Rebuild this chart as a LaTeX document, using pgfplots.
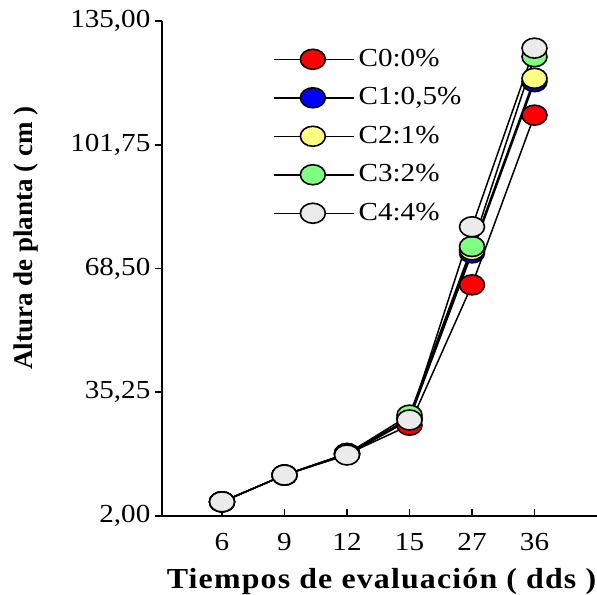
\documentclass[border=0pt]{standalone}
\usepackage{fontspec}
\setmainfont{Liberation Serif}
\newfontfamily\widefont{Liberation Serif}[FakeStretch=1.12]
\newfontfamily\xlabfont{Liberation Serif}[FakeStretch=1.1,LetterSpace=4]
\usepackage{pgfplots}
\pgfplotsset{compat=1.18}

\definecolor{cZero}{RGB}{255,0,0}
\definecolor{cOne}{RGB}{0,0,255}
\definecolor{cTwo}{RGB}{255,255,128}
\definecolor{cThree}{RGB}{128,255,128}
\definecolor{cFour}{RGB}{235,235,235}

\begin{document}
\begin{tikzpicture}
\useasboundingbox (-81pt,-39pt) rectangle (217.5pt,258pt);
\begin{axis}[
  at={(0,0)}, anchor=south west,
  scale only axis,
  width=217.5pt, height=247.5pt,
  xmin=-0.96, xmax=6,
  ymin=2, ymax=135,
  axis x line=bottom, axis y line=left,
  axis line style={-, line width=1pt},
  xtick={0,1,2,3,4,5},
  xticklabels={6,9,12,15,27,36},
  ytick={2,35.25,68.5,101.75,135},
  yticklabels={{2,00},{35,25},{68,50},{101,75},{135,00}},
  x tick style={line width=0.9pt, black},
  y tick style={line width=0.9pt, black},
  xtick align=inside, ytick align=outside,
  major tick length=3.3pt,
  tick label style={font=\widefont\fontsize{13}{15}\selectfont},
  xticklabel style={yshift=-5pt},
  yticklabel style={xshift=1pt},
  /pgf/number format/assume math mode=true,
  xlabel={\textbf{Tiempos de evaluación ( dds )}},
  ylabel={\textbf{Altura de planta ( cm )}},
  xlabel style={font=\xlabfont\fontsize{14.5}{16}\selectfont, at={(axis description cs:0.506,-0.132)}, anchor=center},
  ylabel style={font=\fontsize{13.5}{15}\selectfont, at={(axis description cs:-0.312,0.5616)}, anchor=center},
  clip=false,
  every axis plot/.append style={line width=0.75pt, black},
  mark size=5pt,
  legend style={draw=none, fill=none, at={(axis description cs:0.2545,0.948)}, anchor=north west,
    font=\widefont\fontsize{13}{15}\selectfont, row sep=7.1pt, inner sep=0pt,
    nodes={inner xsep=2pt, inner ysep=1pt}},
  legend cell align=left,
  legend image code/.code={
    \draw[mark repeat=2, mark phase=2, #1] plot coordinates {(0pt,0pt) (19.5pt,0pt) (40pt,0pt)};
  },
]
% altura de planta por tratamiento
\addplot[mark=*, mark options={xscale=1.25, line width=0.8pt, draw=black, solid, fill=cZero}] coordinates {(0,5.8) (1,13.0) (2,18.6) (3,26.4) (4,64.1) (5,109.7)};
\addlegendentry{C0:0\%}
\addplot[mark=*, mark options={xscale=1.25, line width=0.8pt, draw=black, solid, fill=cOne}] coordinates {(0,5.8) (1,13.0) (2,18.8) (3,28.0) (4,72.7) (5,118.7)};
\addlegendentry{C1:0,5\%}
\addplot[mark=*, mark options={xscale=1.25, line width=0.8pt, draw=black, solid, fill=cTwo}] coordinates {(0,5.8) (1,13.0) (2,18.8) (3,28.3) (4,73.5) (5,119.6)};
\addlegendentry{C2:1\%}
\addplot[mark=*, mark options={xscale=1.25, line width=0.8pt, draw=black, solid, fill=cThree}] coordinates {(0,5.8) (1,13.0) (2,18.7) (3,29.1) (4,74.4) (5,125.4)};
\addlegendentry{C3:2\%}
\addplot[mark=*, mark options={xscale=1.25, line width=0.8pt, draw=black, solid, fill=cFour}] coordinates {(0,5.8) (1,13.0) (2,18.4) (3,27.8) (4,79.7) (5,127.7)};
\addlegendentry{C4:4\%}
\end{axis}
\end{tikzpicture}
\end{document}
